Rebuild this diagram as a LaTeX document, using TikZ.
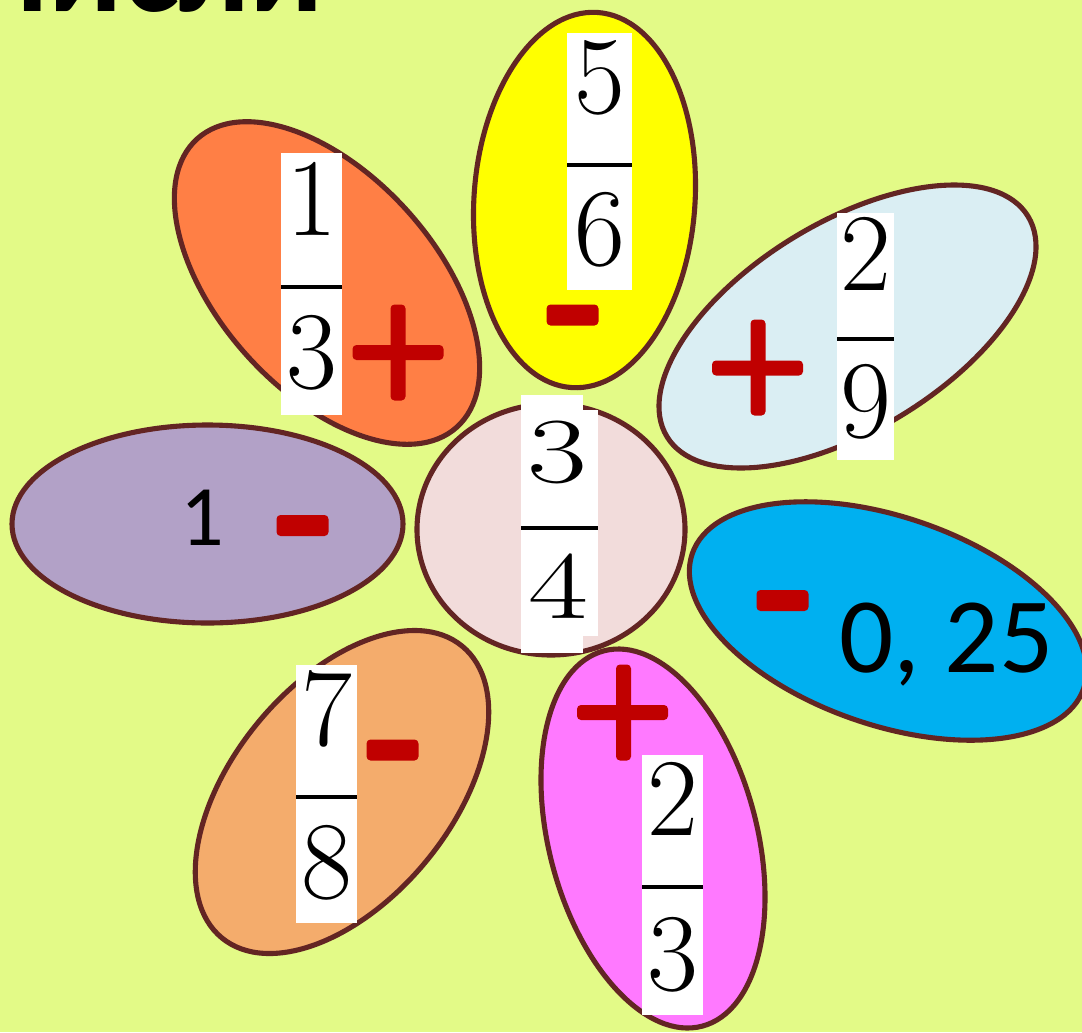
\documentclass[tikz,border=0pt]{standalone}
\usepackage{fontspec}
\usepackage{graphicx}
\newfontfamily\calfont{Carlito}
\usetikzlibrary{shapes.geometric,calc}
\definecolor{bg}{RGB}{227,250,135}
\definecolor{outl}{RGB}{99,37,35}
\definecolor{orangep}{RGB}{255,127,69}
\definecolor{yellowp}{RGB}{255,255,0}
\definecolor{lbluep}{RGB}{218,238,243}
\definecolor{purplep}{RGB}{178,161,199}
\definecolor{centerp}{RGB}{242,220,219}
\definecolor{bluep}{RGB}{0,176,240}
\definecolor{tanp}{RGB}{244,172,108}
\definecolor{pinkp}{RGB}{255,121,255}
\definecolor{signred}{RGB}{192,0,0}
\newcommand\pxu{0.02cm}
\begin{document}
\begin{tikzpicture}[x=0.02cm,y=-0.02cm,
  petal/.style={ellipse, draw=outl, line width=2.9pt, inner sep=0pt, outer sep=0pt},
  wbox/.style={rectangle, fill=white, draw=none, inner sep=0pt, outer sep=0pt},
  fbar/.style={draw=black, line width=2.8pt},
  dig/.style={anchor=base, inner sep=0pt, font=\fontsize{63}{63}\selectfont},
  minusbox/.style={rectangle, fill=signred, rounded corners=4*\pxu, inner sep=0pt,
    minimum width=52*\pxu, minimum height=21*\pxu},
  plush/.style={rectangle, fill=signred, rounded corners=4*\pxu, inner sep=0pt,
    minimum width=91*\pxu, minimum height=15*\pxu},
  plusv/.style={rectangle, fill=signred, rounded corners=4*\pxu, inner sep=0pt,
    minimum width=15*\pxu, minimum height=96*\pxu},
  caltext/.style={anchor=base west, inner sep=0pt, font=\calfont\fontsize{61}{61}\selectfont}
]
\useasboundingbox (0,0) rectangle (1082,1032);
\clip (0,0) rectangle (1082,1032);
\fill[bg] (0,0) rectangle (1082,1032);

% title (cut off at the top, as in the reference)
\node[anchor=base east, inner sep=0pt, font=\calfont\bfseries\fontsize{76}{76}\selectfont] (title) at (324,11) {Вычисли};

% petals
\node[petal, fill=orangep, minimum width=388*\pxu, minimum height=216*\pxu, rotate=-48] (orange) at (327,283) {};
\node[petal, fill=yellowp, minimum width=376*\pxu, minimum height=221*\pxu, rotate=86] (yellow) at (584.5,200) {};
\node[petal, fill=lbluep, minimum width=423*\pxu, minimum height=208*\pxu, rotate=31.4] (lblue) at (847.5,326.5) {};
\node[petal, fill=purplep, minimum width=391*\pxu, minimum height=198*\pxu] (purple) at (207.5,524) {};
\node[petal, fill=bluep, minimum width=414*\pxu, minimum height=208*\pxu, rotate=-19] (blue) at (888,621) {};
\node[petal, fill=tanp, minimum width=378*\pxu, minimum height=218*\pxu, rotate=50.5] (tan) at (342,792) {};
\node[petal, fill=pinkp, minimum width=388*\pxu, minimum height=208*\pxu, rotate=-75.3] (pink) at (653,838.5) {};
\node[petal, fill=centerp, minimum width=268*\pxu, minimum height=251*\pxu] (centre) at (551,529.5) {};

% fraction 1/3
\node[wbox, minimum width=61*\pxu, minimum height=262*\pxu] (f1) at (311.5,284) {};
\draw[fbar] ($(f1.west)+(0,3)$) -- ($(f1.east)+(0,3)$);
\node[dig] (f1n) at (311.5,235) {1};
\node[dig] (f1d) at (311.5,388) {3};

% fraction 5/6
\node[wbox, minimum width=65*\pxu, minimum height=257*\pxu] (f2) at (599.5,161.5) {};
\draw[fbar] ($(f2.west)+(0,3.5)$) -- ($(f2.east)+(0,3.5)$);
\node[dig] (f2n) at (599.5,113) {5};
\node[dig] (f2d) at (599.5,265) {6};

% fraction 2/9
\node[wbox, minimum width=57*\pxu, minimum height=247*\pxu] (f3) at (865.5,336.5) {};
\draw[fbar] ($(f3.west)+(0,2.5)$) -- ($(f3.east)+(0,2.5)$);
\node[dig] (f3n) at (865.5,290) {2};
\node[dig] (f3d) at (865.5,437) {9};

% fraction 3/4 (centre)
\node[wbox, minimum width=62*\pxu, minimum height=258*\pxu] (f4a) at (552,524) {};
\node[wbox, minimum width=77*\pxu, minimum height=226*\pxu] (f4) at (559.5,523) {};
\draw[fbar] ($(f4.west)+(0,5)$) -- ($(f4.east)+(0,5)$);
\node[dig, font=\fontsize{53}{53}\selectfont] (f4n) at (557,482) {\scalebox{1.4}[1]{3}};
\node[dig, font=\fontsize{55}{55}\selectfont] (f4d) at (558,618) {\scalebox{1.35}[1]{4}};

% fraction 7/8
\node[wbox, minimum width=61*\pxu, minimum height=258*\pxu] (f5) at (326.5,794) {};
\draw[fbar] ($(f5.west)+(0,3)$) -- ($(f5.east)+(0,3)$);
\node[dig] (f5n) at (326.5,745) {7};
\node[dig] (f5d) at (326.5,898) {8};

% fraction 2/3 (pink)
\node[wbox, minimum width=61*\pxu, minimum height=260*\pxu] (f6) at (672.5,885) {};
\draw[fbar] ($(f6.west)+(0,2)$) -- ($(f6.east)+(0,2)$);
\node[dig] (f6n) at (672.5,835) {2};
\node[dig] (f6d) at (672.5,990) {3};

% plain numbers
\node[caltext, font=\calfont\fontsize{49}{49}\selectfont] (one) at (180,545) {1};
\node[caltext] (quarter) at (839,672) {0, 25};

% signs
\node[plush] (p1h) at (398,352.5) {};
\node[plusv] (p1v) at (398,352.5) {};
\node[minusbox] (m1) at (572.5,315) {};
\node[plush] (p2h) at (757.5,368) {};
\node[plusv] (p2v) at (758,367.5) {};
\node[minusbox] (m2) at (302.5,525.5) {};
\node[minusbox] (m3) at (782.5,600.5) {};
\node[minusbox] (m4) at (392.5,750) {};
\node[plush] (p3h) at (622.5,712.5) {};
\node[plusv] (p3v) at (623.5,712.5) {};
\end{tikzpicture}
\end{document}
